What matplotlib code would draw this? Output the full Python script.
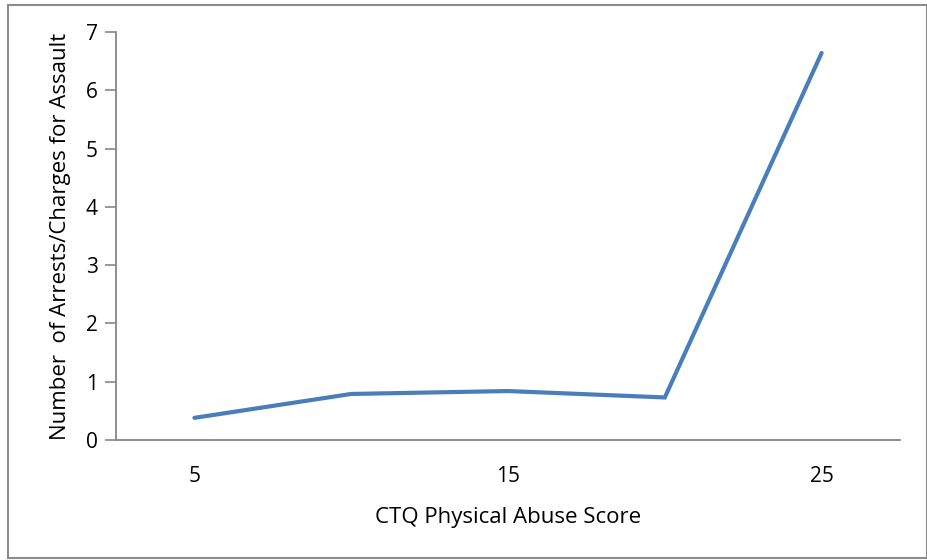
import matplotlib
matplotlib.use("Agg")
import matplotlib.pyplot as plt
from matplotlib.patches import Rectangle

scores = ["5", "10", "15", "20", "25"]
arrests = [0.38, 0.79, 0.84, 0.73, 6.64]
shown_labels = ["5", "", "15", "", "25"]
y_ticks = [0, 1, 2, 3, 4, 5, 6, 7]

plt.rcParams["font.family"] = ["Open Sans", "DejaVu Sans"]

W, H = 928, 560
fig = plt.figure(figsize=(W / 100, H / 100), dpi=100)
fig.patches.append(Rectangle((8 / W, 2 / H), (W - 9) / W, (H - 7) / H,
                             transform=fig.transFigure, fill=False,
                             edgecolor="#8c8c8c", linewidth=1.5))

left, right, top, bottom = 116, 900, 32, 440
ax = fig.add_axes([left / W, 1 - bottom / H, (right - left) / W, (bottom - top) / H])

x = list(range(len(scores)))
ax.plot(x, arrests, color="#4A7EBB", linewidth=3.0, solid_capstyle="round",
        solid_joinstyle="miter")

ax.set_xlim(-0.5, len(scores) - 0.5)
ax.set_ylim(0, 7)
ax.set_yticks(y_ticks)
ax.set_xticks(x)
ax.set_xticklabels(shown_labels)

for s in ("top", "right"):
    ax.spines[s].set_visible(False)
for s in ("left", "bottom"):
    ax.spines[s].set_color("#868686")
    ax.spines[s].set_linewidth(1.3)

ax.tick_params(axis="y", length=8, width=1.2, color="#868686", labelsize=15, pad=5)
ax.tick_params(axis="x", length=0, labelsize=15, pad=19)

ax.set_xlabel("CTQ Physical Abuse Score", fontsize=16, labelpad=14)
ax.set_ylabel("Number  of Arrests/Charges for Assault", fontsize=16, labelpad=11)

fig.savefig("out.png", dpi=100)
